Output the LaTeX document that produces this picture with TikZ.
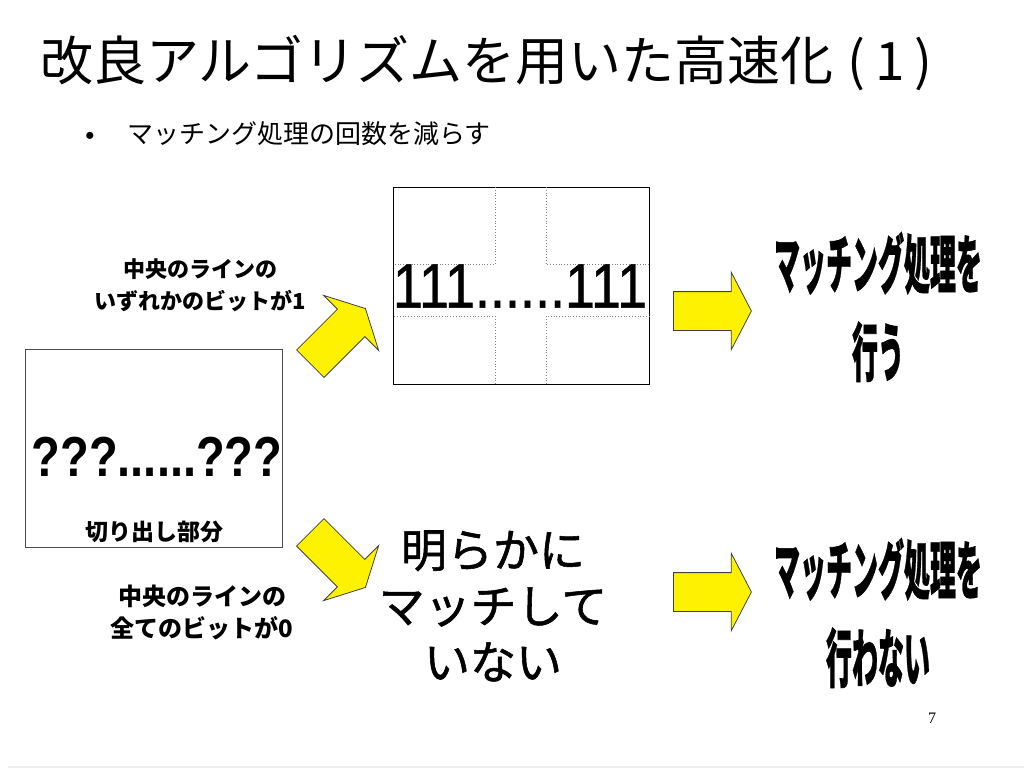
\documentclass[tikz,border=0pt]{standalone}
\usepackage{fontspec}
\setmainfont{Liberation Sans}
\newfontfamily\jp{Noto Sans CJK JP}
\newfontfamily\jpmid[FakeBold=1.2]{Noto Sans CJK JP}
\newfontfamily\jpheavy[FakeBold=1]{Noto Sans CJK JP}
\newfontfamily\digits[FakeBold=0.8]{Liberation Sans}
\newfontfamily\pagefont{Liberation Serif}
\usepackage{tikz}
\usetikzlibrary{shapes.arrows,positioning,calc}

\tikzset{
  blockarrow/.style={single arrow, draw=black!75, fill=yellow, line width=0.8pt,
    minimum height=78pt, minimum width=77pt, inner xsep=0pt, inner ysep=19pt,
    single arrow head extend=19.5pt, single arrow tip angle=125, anchor=tail},
  cell line/.style={gray, dotted, line width=0.8pt},
  label text/.style={font=\jp\bfseries\fontsize{22}{32}\selectfont, align=center, inner sep=0pt},
  squeezed/.style={font=\jpheavy\bfseries\fontsize{40}{55}\selectfont, align=center, inner sep=0pt,
    xscale=0.65, yscale=1.6, transform shape}
}

\begin{document}
\begin{tikzpicture}[x=1pt, y=-1pt]
    \useasboundingbox (0,0) rectangle (1024,768);

    % Title
    \node[anchor=west, inner sep=0pt, font=\jp\fontsize{53}{60}\selectfont] (title) at (40,63) {改良アルゴリズムを用いた高速化\hspace{14pt}(\hspace{10pt}1\hspace{10pt})};
    \node[inner sep=0pt, font=\fontsize{26}{28}\selectfont] (dot) at (90,138) {•};
    \node[anchor=west, inner sep=0pt, font=\jp\fontsize{26}{30}\selectfont] (point) at (127,134) {マッチング処理の回数を減らす};

    % Cut-out box
    \node[draw=black!70, line width=0.8pt, minimum width=257pt, minimum height=198pt] (cutbox) at (153.5,448) {};
    \node[inner sep=0pt, font=\bfseries\fontsize{47}{50}\selectfont, yscale=1.2, transform shape] (unknown) at (157,457) {???......???};
    \node[label text, font=\jp\bfseries\fontsize{23}{28}\selectfont] (cutout) at (154,532) {切り出し部分};

    % Line box
    \node[draw, line width=0.8pt, minimum width=256pt, minimum height=197pt] (linebox) at (521,285.5) {};
    \foreach \x/\y/\e in {495/187/393, 546/187/649, 495/384/393, 546/384/649} {
        \pgfmathsetmacro{\m}{\y==187 ? 264 : 316}
        \draw[cell line] (\x,\y) -- (\x,\m) -- (\e,\m);
    }
    \node[inner sep=0pt, font=\digits\fontsize{54}{56}\selectfont, yscale=1.16, transform shape] (ones) at (520,286) {111......111};

    % Conditions
    \node[label text] (anybit) at (200,285) {中央のラインの\\いずれかのビットが1};
    \node[label text, font=\jp\bfseries\fontsize{24}{32}\selectfont] (allzero) at (202,612) {中央のラインの\\全てのビットが0};
    \node[blockarrow, rotate=45] (upshift) at (310,364) {};
    \node[blockarrow, rotate=-45] (downshift) at (310,532) {};

    % Results
    \node[font=\jpmid\fontsize{46}{56}\selectfont, align=center, inner sep=0pt] (nomatch) at (493,606) {明らかに\\マッチして\\いない};
    \node[blockarrow] (doarrow) at (673,311) {};
    \node[blockarrow] (skiparrow) at (673,592) {};
    \node[squeezed] (domatch) at (878,307) {マッチング処理を\\行う};
    \node[squeezed] (skipmatch) at (878,613) {マッチング処理を\\行わない};

    % Footer
    \node[inner sep=0pt, font=\pagefont\fontsize{16}{18}\selectfont] (page) at (932,718) {7};
    \fill[black!7] (8,766) rectangle (1024,768);
\end{tikzpicture}
\end{document}
